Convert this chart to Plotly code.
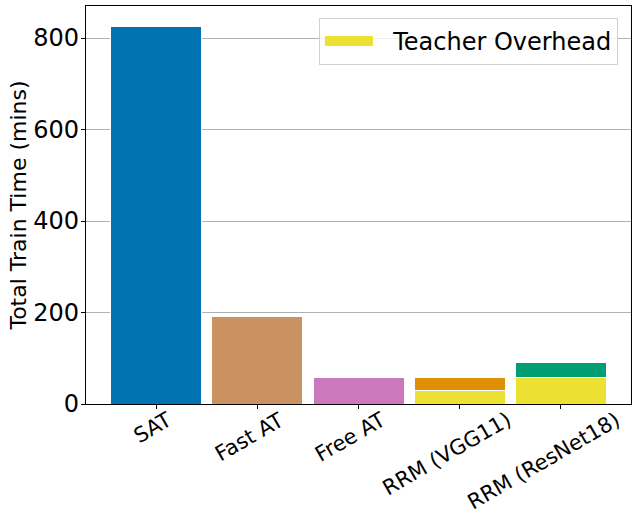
import plotly.graph_objects as go

methods = ["SAT", "Fast AT", "Free AT", "RRM (VGG11)", "RRM (ResNet18)"]
total_time = [826, 192, 57, 57.5, 90]
teacher_overhead = [0, 0, 0, 28.5, 58.5]
method_colors = ["#0173b2", "#ca9161", "#cc78bc", "#de8f05", "#029e73"]
teacher_color = "#ece133"
y_ticks = [0, 200, 400, 600, 800]

student_time = [t - o for t, o in zip(total_time, teacher_overhead)]
x_pos = list(range(len(methods)))

font_family = "DejaVu Sans"
FS = 24
XFS = 21

fig = go.Figure()
fig.add_trace(go.Bar(
    x=x_pos, y=teacher_overhead, name="Teacher Overhead",
    marker=dict(color=teacher_color, line=dict(color="white", width=1)),
    width=0.9, showlegend=False, legendgroup="teacher",
))
fig.add_trace(go.Bar(
    x=x_pos, y=student_time, name="Training",
    marker=dict(color=method_colors, line=dict(color="white", width=1)),
    width=0.9, showlegend=False,
))
# legend key (patch-like handle) for the teacher overhead series
fig.add_trace(go.Scatter(
    x=[None], y=[None], mode="lines", name="\u00a0\u00a0Teacher Overhead",
    line=dict(color=teacher_color, width=17), legendgroup="teacher",
    showlegend=True, hoverinfo="skip",
))

for xi, label in zip(x_pos, methods):
    fig.add_annotation(
        x=xi, y=0, xref="x", yref="paper", text=label, showarrow=False,
        textangle=-30, xanchor="center", yanchor="top", yshift=-1,
        xshift=-round(1.2 * len(label)),
        font=dict(family=font_family, size=XFS, color="black"),
    )

fig.update_layout(
    barmode="stack",
    width=641, height=514,
    margin=dict(l=86, r=10, t=6, b=110),
    paper_bgcolor="white", plot_bgcolor="white",
    font=dict(family=font_family, size=FS, color="black"),
    showlegend=True,
    legend=dict(
        x=0.976, y=0.97, xanchor="right", yanchor="top",
        bordercolor="#d0d0d0", borderwidth=1, bgcolor="rgba(255,255,255,0.8)",
        font=dict(size=FS), itemwidth=48,
    ),
    xaxis=dict(
        tickmode="array", tickvals=x_pos, showticklabels=False,
        range=[-0.695, 4.695], automargin=False,
        showline=True, linecolor="black", linewidth=1.2, mirror=True,
        ticks="outside", ticklen=4, tickcolor="black",
        showgrid=False, zeroline=False,
    ),
    yaxis=dict(
        title=dict(text="Total Train Time (mins)", font=dict(size=22), standoff=0),
        range=[0, 870], tickvals=y_ticks, automargin=False,
        ticklabelstandoff=-3,
        showline=True, linecolor="black", linewidth=1.2, mirror=True,
        ticks="outside", ticklen=4, tickcolor="black",
        showgrid=True, gridcolor="#b0b0b0", gridwidth=1, zeroline=False,
        layer="above traces",
    ),
)

fig.write_html("out.html", config={"displayModeBar": False},
               post_script="document.body.style.margin='0';")
